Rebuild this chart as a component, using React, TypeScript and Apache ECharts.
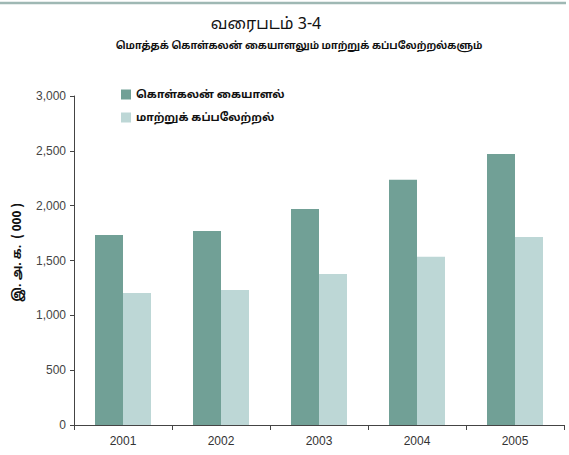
import React, { useEffect, useRef } from "react";
import * as echarts from "echarts";

const years = ["2001", "2002", "2003", "2004", "2005"];
const handlingValues = [1733, 1769, 1970, 2236, 2471];
const transshipValues = [1204, 1231, 1377, 1535, 1715];
const seriesNames = ["கொள்கலன் கையாளல்", "மாற்றுக் கப்பலேற்றல்"];
const titleText = "வரைபடம் 3-4";
const subtitleText = "மொத்தக் கொள்கலன் கையாளலும் மாற்றுக் கப்பலேற்றல்களும்";
const yAxisName = "இ. அ. க.  ( 000 )";

export default function App() {
  const ref = useRef<HTMLDivElement>(null);
  useEffect(() => {
    if (!ref.current) return;
    const chart = echarts.init(ref.current, null, { renderer: "svg" });
    const tamilFont = "'Noto Sans Tamil', 'Noto Sans', 'DejaVu Sans', sans-serif";
    chart.setOption({
      animation: false,
      backgroundColor: "#ffffff",
      graphic: [
        {
          type: "line",
          shape: { x1: 0, y1: 3, x2: 566, y2: 3 },
          style: { stroke: "#9fb8b4", lineWidth: 2.5 },
        },
        {
          type: "text",
          x: 266,
          y: 25,
          style: {
            text: titleText,
            fill: "#111",
            font: `16px ${tamilFont}`,
            textAlign: "center",
            textVerticalAlign: "middle",
          },
        },
        {
          type: "text",
          x: 299,
          y: 46,
          style: {
            text: subtitleText,
            fill: "#111",
            font: `bold 10px ${tamilFont}`,
            textAlign: "center",
            textVerticalAlign: "middle",
          },
        },
      ],
      legend: {
        orient: "vertical",
        left: 116,
        top: 84,
        itemWidth: 10,
        itemHeight: 10,
        itemGap: 12,
        icon: "rect",
        textStyle: { color: "#111", fontSize: 11, fontWeight: "bold", fontFamily: tamilFont },
        data: seriesNames,
      },
      grid: { left: 74, right: 5, top: 96, bottom: 30 },
      xAxis: {
        type: "category",
        data: years,
        axisLine: { lineStyle: { color: "#444", width: 1 } },
        axisTick: { show: true, alignWithLabel: false, length: 5, lineStyle: { color: "#444" } },
        axisLabel: { color: "#333", fontSize: 12, fontFamily: "Liberation Sans, Arial, sans-serif", margin: 10 },
      },
      yAxis: {
        type: "value",
        min: 0,
        max: 3000,
        interval: 500,
        name: yAxisName,
        nameLocation: "middle",
        nameGap: 50,
        nameRotate: 90,
        nameTextStyle: {
          color: "#111",
          fontSize: 12,
          fontWeight: "bold",
          fontFamily: tamilFont,
          padding: [0, 0, 0, 16],
        },
        axisLine: { show: true, lineStyle: { color: "#444", width: 1 } },
        axisTick: { show: true, length: 4, lineStyle: { color: "#444" } },
        splitLine: { show: false },
        axisLabel: {
          color: "#444",
          fontSize: 12,
          fontFamily: "Liberation Sans, Arial, sans-serif",
          margin: 8,
          formatter: (v: number) => v.toLocaleString("en-US"),
        },
      },
      series: [
        {
          name: seriesNames[0],
          type: "bar",
          data: handlingValues,
          barWidth: 28,
          barGap: "0%",
          itemStyle: { color: "#71a096" },
        },
        {
          name: seriesNames[1],
          type: "bar",
          data: transshipValues,
          barWidth: 28,
          itemStyle: { color: "#bdd7d6" },
        },
      ],
    });
    return () => chart.dispose();
  }, []);
  return <div ref={ref} style={{ width: 569, height: 455, position: "absolute", left: 0, top: 0 }} />;
}
